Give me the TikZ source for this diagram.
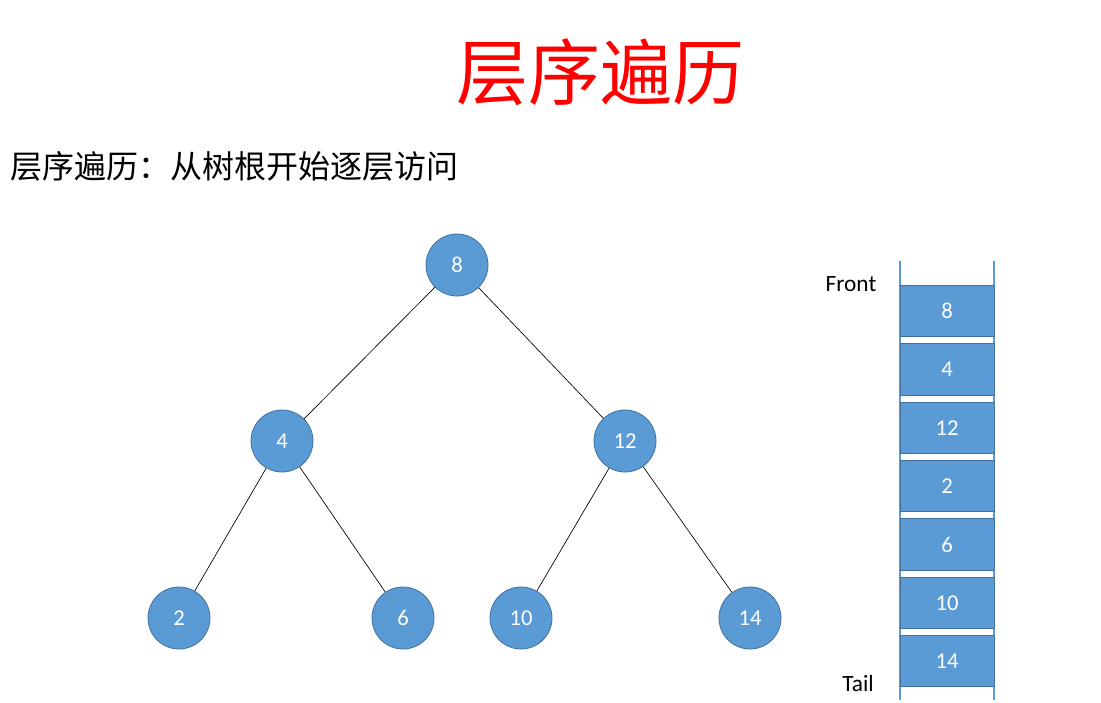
\documentclass[tikz,border=0pt]{standalone}
\usepackage{fontspec}
\setmainfont{Carlito}
\newfontfamily\cjk{Noto Sans CJK SC}
\definecolor{nodeblue}{HTML}{5B9BD5}
\definecolor{nodeedge}{HTML}{41719C}
\begin{document}
\begin{tikzpicture}[x=0.75pt,y=-0.75pt,
  tnode/.style={circle,fill=nodeblue,draw=nodeedge,line width=0.6pt,minimum size=46.5pt,inner sep=0pt,text=white,font=\fontsize{17}{20}\selectfont},
  qbox/.style={rectangle,fill=nodeblue,draw=nodeedge,line width=0.6pt,minimum width=70.5pt,minimum height=38.5pt,inner sep=0pt,text=white,font=\fontsize{17}{20}\selectfont},
  edge/.style={black,line width=0.5pt},
  rail/.style={nodeblue,line width=1.6pt},
  lbl/.style={font=\fontsize{17.5}{20}\selectfont,text=black}]
\useasboundingbox (0,0) rectangle (1101,703);
\node[text=red,font=\cjk\fontsize{54}{62}\selectfont] (title) at (600,72) {层序遍历};
\node[anchor=west,font=\cjk\fontsize{24}{29}\selectfont,inner sep=0pt] (sub) at (10,166) {层序遍历：从树根开始逐层访问};
% tree
\node[tnode] (n8) at (457,265) {8};
\node[tnode] (n4) at (282,441) {4};
\node[tnode] (n12) at (625,441) {12};
\node[tnode] (n2) at (179,618) {2};
\node[tnode] (n6) at (403,618) {6};
\node[tnode] (n10) at (521,618) {10};
\node[tnode] (n14) at (750,618) {14};
\draw[edge] (n8) -- (n4);
\draw[edge] (n8) -- (n12);
\draw[edge] (n4) -- (n2);
\draw[edge] (n4) -- (n6);
\draw[edge] (n12) -- (n10);
\draw[edge] (n12) -- (n14);
% queue
\coordinate (lt) at (900,261);
\coordinate (lb) at (900,700);
\coordinate (rt) at (994,261);
\coordinate (rb) at (994,700);
\draw[rail] (lt) -- (lb);
\draw[rail] (rt) -- (rb);
\node[qbox] (q1) at (947,311) {8};
\node[qbox] (q2) at (947,369.5) {4};
\node[qbox] (q3) at (947,428) {12};
\node[qbox] (q4) at (947,486) {2};
\node[qbox] (q5) at (947,544.5) {6};
\node[qbox] (q6) at (947,603) {10};
\node[qbox] (q7) at (947,661) {14};
\node[lbl] (front) at (851,284) {Front};
\node[lbl] (tail) at (858,683) {Tail};
\end{tikzpicture}
\end{document}
